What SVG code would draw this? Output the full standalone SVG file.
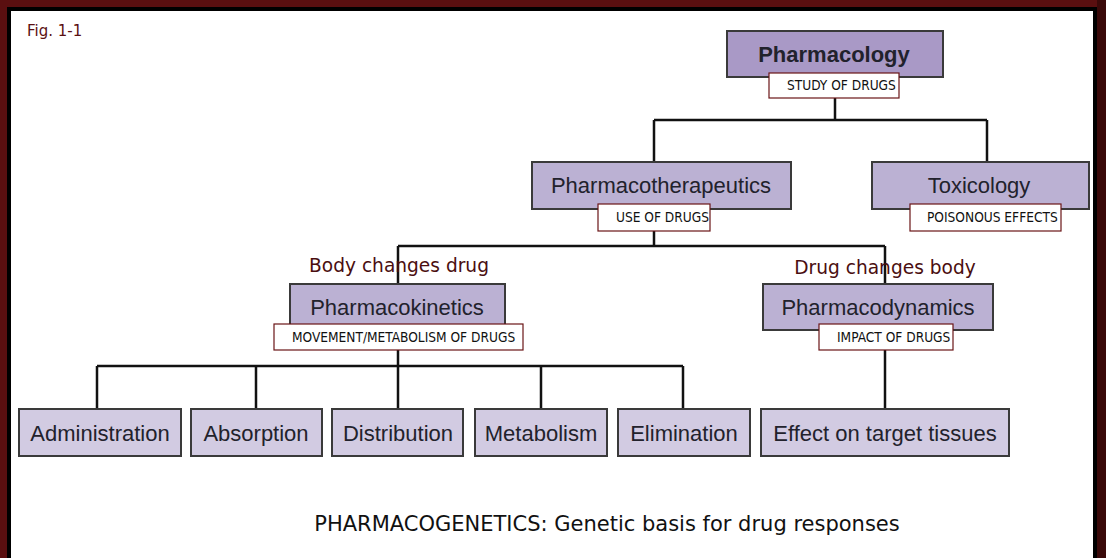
<svg xmlns="http://www.w3.org/2000/svg" width="1106" height="558" viewBox="0 0 1106 558">
<style>
.node{stroke:#3a3a3a;stroke-width:2}
.n1{fill:#a999c6}
.n2{fill:#bbb1d3}
.n3{fill:#d2cbe2}
.nt{font-family:"Liberation Sans",Arial,sans-serif;font-size:22px;fill:#22222c;text-anchor:middle}
.lb{fill:#fff;stroke:#6a1416;stroke-width:1.2}
.lt{font-family:"DejaVu Sans Condensed","DejaVu Sans",sans-serif;font-size:13.6px;fill:#111}
.side{font-family:"DejaVu Sans",sans-serif;font-size:18.6px;fill:#4a0e10;text-anchor:middle}
.conn{stroke:#111;stroke-width:2.5;fill:none}
</style>
<rect x="0" y="0" width="1106" height="558" fill="#5a0f10"/>
<rect x="1097" y="0" width="9" height="558" fill="#3a0909"/>
<rect x="7" y="7" width="1090" height="560" fill="#000"/>
<rect x="11" y="11" width="1082" height="560" fill="#fff"/>
<text x="27" y="36" font-family="DejaVu Sans,sans-serif" font-size="15" fill="#5a1012">Fig. 1-1</text>
<g id="connectors">
<path class="conn" d="M835 98V120M654 120H987M654 120V162M987 120V162"/>
<path class="conn" d="M654 231V246M398 246H885M398 246V284M885 246V284"/>
<path class="conn" d="M398 350V366M97 366H683M97 366V409M256 366V409M398 366V409M541 366V409M683 366V409"/>
<path class="conn" d="M885 350V409"/>
</g>
<g id="pharmacology">
<rect class="node n1" x="727" y="31" width="216" height="46"/>
<text class="nt" x="834" y="62" font-weight="bold" font-size="22">Pharmacology</text>
<rect class="lb" x="769" y="73" width="130" height="25"/>
<text class="lt" x="787" y="90">STUDY OF DRUGS</text>
</g>
<g id="pharmacotherapeutics">
<rect class="node n2" x="532" y="162" width="259" height="47"/>
<text class="nt" x="661" y="193">Pharmacotherapeutics</text>
<rect class="lb" x="598" y="204" width="112" height="27"/>
<text class="lt" x="616" y="222">USE OF DRUGS</text>
</g>
<g id="toxicology">
<rect class="node n2" x="872" y="162" width="217" height="47"/>
<text class="nt" x="979" y="193">Toxicology</text>
<rect class="lb" x="910" y="204" width="151" height="27"/>
<text class="lt" x="927" y="222">POISONOUS EFFECTS</text>
</g>
<text class="side" x="399" y="272">Body changes drug</text>
<text class="side" x="885" y="274">Drug changes body</text>
<g id="pharmacokinetics">
<rect class="node n2" x="290" y="284" width="215" height="46"/>
<text class="nt" x="397" y="315">Pharmacokinetics</text>
<rect class="lb" x="274" y="324" width="249" height="26"/>
<text class="lt" x="292" y="342">MOVEMENT/METABOLISM OF DRUGS</text>
</g>
<g id="pharmacodynamics">
<rect class="node n2" x="763" y="284" width="230" height="46"/>
<text class="nt" x="878" y="315">Pharmacodynamics</text>
<rect class="lb" x="819" y="324" width="134" height="26"/>
<text class="lt" x="837" y="342">IMPACT OF DRUGS</text>
</g>
<g id="administration">
<rect class="node n3" x="19" y="409" width="162" height="47"/>
<text class="nt" x="100" y="441">Administration</text>
</g>
<g id="absorption">
<rect class="node n3" x="191" y="409" width="131" height="47"/>
<text class="nt" x="256" y="441">Absorption</text>
</g>
<g id="distribution">
<rect class="node n3" x="332" y="409" width="131" height="47"/>
<text class="nt" x="398" y="441">Distribution</text>
</g>
<g id="metabolism">
<rect class="node n3" x="475" y="409" width="132" height="47"/>
<text class="nt" x="541" y="441">Metabolism</text>
</g>
<g id="elimination">
<rect class="node n3" x="618" y="409" width="132" height="47"/>
<text class="nt" x="684" y="441">Elimination</text>
</g>
<g id="effect">
<rect class="node n3" x="761" y="409" width="248" height="47"/>
<text class="nt" x="885" y="441">Effect on target tissues</text>
</g>
<text x="607" y="531" font-family="DejaVu Sans,sans-serif" font-size="21" fill="#111" text-anchor="middle">PHARMACOGENETICS: Genetic basis for drug responses</text>
</svg>
